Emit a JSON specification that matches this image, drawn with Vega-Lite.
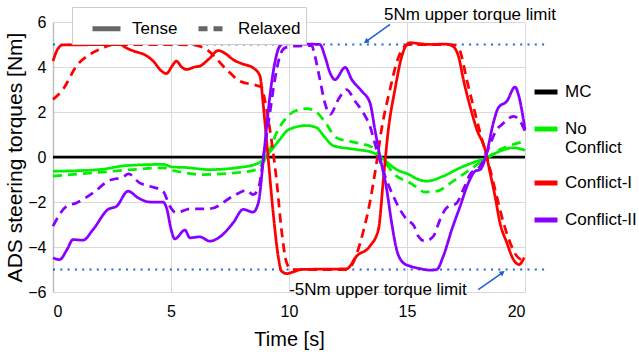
{
  "$schema": "https://vega.github.io/schema/vega-lite/v6.json",
  "width": 472,
  "height": 270,
  "autosize": "none",
  "padding": {"left": 53, "top": 22, "right": 114, "bottom": 64},
  "config": {
    "font": "Liberation Sans",
    "view": {"stroke": null},
    "axis": {"labelColor": "#000", "titleColor": "#000", "titleFontWeight": "normal", "gridColor": "#d9d9d9", "ticks": false}
  },
  "datasets": {
    "lines": [
      {"series": "MC", "mode": "Tense", "t": 0, "v": 0},
      {"series": "MC", "mode": "Tense", "t": 20, "v": 0},

      {"series": "No Conflict", "mode": "Tense", "t": 0, "v": -0.63},
      {"series": "No Conflict", "mode": "Tense", "t": 1.27, "v": -0.6},
      {"series": "No Conflict", "mode": "Tense", "t": 2.12, "v": -0.54},
      {"series": "No Conflict", "mode": "Tense", "t": 3.11, "v": -0.38},
      {"series": "No Conflict", "mode": "Tense", "t": 4.66, "v": -0.33},
      {"series": "No Conflict", "mode": "Tense", "t": 5.1, "v": -0.45},
      {"series": "No Conflict", "mode": "Tense", "t": 5.5, "v": -0.46},
      {"series": "No Conflict", "mode": "Tense", "t": 6.64, "v": -0.56},
      {"series": "No Conflict", "mode": "Tense", "t": 7.77, "v": -0.48},
      {"series": "No Conflict", "mode": "Tense", "t": 8.55, "v": -0.33},
      {"series": "No Conflict", "mode": "Tense", "t": 8.83, "v": -0.19},
      {"series": "No Conflict", "mode": "Tense", "t": 9.04, "v": 0.04},
      {"series": "No Conflict", "mode": "Tense", "t": 9.33, "v": 0.41},
      {"series": "No Conflict", "mode": "Tense", "t": 9.61, "v": 0.78},
      {"series": "No Conflict", "mode": "Tense", "t": 9.9, "v": 1.15},
      {"series": "No Conflict", "mode": "Tense", "t": 10.25, "v": 1.32},
      {"series": "No Conflict", "mode": "Tense", "t": 10.74, "v": 1.4},
      {"series": "No Conflict", "mode": "Tense", "t": 11.17, "v": 1.3},
      {"series": "No Conflict", "mode": "Tense", "t": 11.5, "v": 0.9},
      {"series": "No Conflict", "mode": "Tense", "t": 11.88, "v": 0.5},
      {"series": "No Conflict", "mode": "Tense", "t": 12.87, "v": 0.33},
      {"series": "No Conflict", "mode": "Tense", "t": 13.57, "v": 0.19},
      {"series": "No Conflict", "mode": "Tense", "t": 13.92, "v": -0.04},
      {"series": "No Conflict", "mode": "Tense", "t": 14.56, "v": -0.56},
      {"series": "No Conflict", "mode": "Tense", "t": 15.13, "v": -0.8},
      {"series": "No Conflict", "mode": "Tense", "t": 15.34, "v": -0.93},
      {"series": "No Conflict", "mode": "Tense", "t": 15.83, "v": -1.07},
      {"series": "No Conflict", "mode": "Tense", "t": 16.54, "v": -0.85},
      {"series": "No Conflict", "mode": "Tense", "t": 17.25, "v": -0.48},
      {"series": "No Conflict", "mode": "Tense", "t": 17.96, "v": -0.19},
      {"series": "No Conflict", "mode": "Tense", "t": 18.38, "v": -0.04},
      {"series": "No Conflict", "mode": "Tense", "t": 18.94, "v": 0.26},
      {"series": "No Conflict", "mode": "Tense", "t": 19.51, "v": 0.41},
      {"series": "No Conflict", "mode": "Tense", "t": 20, "v": 0.3},

      {"series": "No Conflict", "mode": "Relaxed", "t": 0, "v": -0.85},
      {"series": "No Conflict", "mode": "Relaxed", "t": 1.27, "v": -0.74},
      {"series": "No Conflict", "mode": "Relaxed", "t": 2.12, "v": -0.67},
      {"series": "No Conflict", "mode": "Relaxed", "t": 3.39, "v": -0.56},
      {"series": "No Conflict", "mode": "Relaxed", "t": 4.66, "v": -0.48},
      {"series": "No Conflict", "mode": "Relaxed", "t": 5.1, "v": -0.6},
      {"series": "No Conflict", "mode": "Relaxed", "t": 6.36, "v": -0.78},
      {"series": "No Conflict", "mode": "Relaxed", "t": 7.77, "v": -0.7},
      {"series": "No Conflict", "mode": "Relaxed", "t": 8.62, "v": -0.56},
      {"series": "No Conflict", "mode": "Relaxed", "t": 8.9, "v": -0.26},
      {"series": "No Conflict", "mode": "Relaxed", "t": 9.19, "v": 0.33},
      {"series": "No Conflict", "mode": "Relaxed", "t": 9.47, "v": 1.07},
      {"series": "No Conflict", "mode": "Relaxed", "t": 9.83, "v": 1.67},
      {"series": "No Conflict", "mode": "Relaxed", "t": 10.25, "v": 2.04},
      {"series": "No Conflict", "mode": "Relaxed", "t": 10.74, "v": 2.15},
      {"series": "No Conflict", "mode": "Relaxed", "t": 11.1, "v": 2.04},
      {"series": "No Conflict", "mode": "Relaxed", "t": 11.45, "v": 1.67},
      {"series": "No Conflict", "mode": "Relaxed", "t": 12.02, "v": 0.85},
      {"series": "No Conflict", "mode": "Relaxed", "t": 12.87, "v": 0.63},
      {"series": "No Conflict", "mode": "Relaxed", "t": 13.57, "v": 0.41},
      {"series": "No Conflict", "mode": "Relaxed", "t": 13.92, "v": -0.04},
      {"series": "No Conflict", "mode": "Relaxed", "t": 14.56, "v": -0.85},
      {"series": "No Conflict", "mode": "Relaxed", "t": 15.13, "v": -1.15},
      {"series": "No Conflict", "mode": "Relaxed", "t": 15.34, "v": -1.3},
      {"series": "No Conflict", "mode": "Relaxed", "t": 15.76, "v": -1.56},
      {"series": "No Conflict", "mode": "Relaxed", "t": 16.26, "v": -1.52},
      {"series": "No Conflict", "mode": "Relaxed", "t": 16.96, "v": -1.07},
      {"series": "No Conflict", "mode": "Relaxed", "t": 17.67, "v": -0.56},
      {"series": "No Conflict", "mode": "Relaxed", "t": 18.38, "v": -0.04},
      {"series": "No Conflict", "mode": "Relaxed", "t": 18.94, "v": 0.33},
      {"series": "No Conflict", "mode": "Relaxed", "t": 19.51, "v": 0.56},
      {"series": "No Conflict", "mode": "Relaxed", "t": 20, "v": 0.7},

      {"series": "Conflict-I", "mode": "Tense", "t": 0, "v": 4.26},
      {"series": "Conflict-I", "mode": "Tense", "t": 0.2, "v": 4.8},
      {"series": "Conflict-I", "mode": "Tense", "t": 0.42, "v": 4.98},
      {"series": "Conflict-I", "mode": "Tense", "t": 1.0, "v": 4.98},
      {"series": "Conflict-I", "mode": "Tense", "t": 2.0, "v": 5.0},
      {"series": "Conflict-I", "mode": "Tense", "t": 2.83, "v": 5.0},
      {"series": "Conflict-I", "mode": "Tense", "t": 3.1, "v": 4.85},
      {"series": "Conflict-I", "mode": "Tense", "t": 3.39, "v": 4.72},
      {"series": "Conflict-I", "mode": "Tense", "t": 3.96, "v": 4.5},
      {"series": "Conflict-I", "mode": "Tense", "t": 4.3, "v": 4.2},
      {"series": "Conflict-I", "mode": "Tense", "t": 4.52, "v": 3.9},
      {"series": "Conflict-I", "mode": "Tense", "t": 4.81, "v": 3.71},
      {"series": "Conflict-I", "mode": "Tense", "t": 5.05, "v": 4.05},
      {"series": "Conflict-I", "mode": "Tense", "t": 5.23, "v": 4.26},
      {"series": "Conflict-I", "mode": "Tense", "t": 5.45, "v": 4.0},
      {"series": "Conflict-I", "mode": "Tense", "t": 5.66, "v": 3.89},
      {"series": "Conflict-I", "mode": "Tense", "t": 6.0, "v": 4.0},
      {"series": "Conflict-I", "mode": "Tense", "t": 6.22, "v": 4.04},
      {"series": "Conflict-I", "mode": "Tense", "t": 6.6, "v": 4.35},
      {"series": "Conflict-I", "mode": "Tense", "t": 7.0, "v": 4.73},
      {"series": "Conflict-I", "mode": "Tense", "t": 7.3, "v": 4.6},
      {"series": "Conflict-I", "mode": "Tense", "t": 7.63, "v": 4.33},
      {"series": "Conflict-I", "mode": "Tense", "t": 8.0, "v": 4.15},
      {"series": "Conflict-I", "mode": "Tense", "t": 8.48, "v": 3.96},
      {"series": "Conflict-I", "mode": "Tense", "t": 8.77, "v": 3.6},
      {"series": "Conflict-I", "mode": "Tense", "t": 8.9, "v": 2.41},
      {"series": "Conflict-I", "mode": "Tense", "t": 9.11, "v": 0.04},
      {"series": "Conflict-I", "mode": "Tense", "t": 9.33, "v": -2.48},
      {"series": "Conflict-I", "mode": "Tense", "t": 9.54, "v": -4.4},
      {"series": "Conflict-I", "mode": "Tense", "t": 9.68, "v": -5.07},
      {"series": "Conflict-I", "mode": "Tense", "t": 9.9, "v": -5.18},
      {"series": "Conflict-I", "mode": "Tense", "t": 10.2, "v": -5.1},
      {"series": "Conflict-I", "mode": "Tense", "t": 10.5, "v": -5.0},
      {"series": "Conflict-I", "mode": "Tense", "t": 12.44, "v": -4.97},
      {"series": "Conflict-I", "mode": "Tense", "t": 12.87, "v": -4.4},
      {"series": "Conflict-I", "mode": "Tense", "t": 13.43, "v": -3.96},
      {"series": "Conflict-I", "mode": "Tense", "t": 13.79, "v": -3.22},
      {"series": "Conflict-I", "mode": "Tense", "t": 14.0, "v": -0.98},
      {"series": "Conflict-I", "mode": "Tense", "t": 14.21, "v": 1.22},
      {"series": "Conflict-I", "mode": "Tense", "t": 14.49, "v": 3.0},
      {"series": "Conflict-I", "mode": "Tense", "t": 14.78, "v": 4.48},
      {"series": "Conflict-I", "mode": "Tense", "t": 14.99, "v": 5.0},
      {"series": "Conflict-I", "mode": "Tense", "t": 15.13, "v": 5.08},
      {"series": "Conflict-I", "mode": "Tense", "t": 15.5, "v": 5.04},
      {"series": "Conflict-I", "mode": "Tense", "t": 16.0, "v": 5.0},
      {"series": "Conflict-I", "mode": "Tense", "t": 16.6, "v": 5.02},
      {"series": "Conflict-I", "mode": "Tense", "t": 16.9, "v": 4.95},
      {"series": "Conflict-I", "mode": "Tense", "t": 17.18, "v": 4.48},
      {"series": "Conflict-I", "mode": "Tense", "t": 17.39, "v": 3.44},
      {"series": "Conflict-I", "mode": "Tense", "t": 17.67, "v": 2.26},
      {"series": "Conflict-I", "mode": "Tense", "t": 17.96, "v": 1.22},
      {"series": "Conflict-I", "mode": "Tense", "t": 18.31, "v": 0.33},
      {"series": "Conflict-I", "mode": "Tense", "t": 18.52, "v": -0.7},
      {"series": "Conflict-I", "mode": "Tense", "t": 18.73, "v": -1.74},
      {"series": "Conflict-I", "mode": "Tense", "t": 18.94, "v": -2.93},
      {"series": "Conflict-I", "mode": "Tense", "t": 19.23, "v": -3.81},
      {"series": "Conflict-I", "mode": "Tense", "t": 19.51, "v": -4.56},
      {"series": "Conflict-I", "mode": "Tense", "t": 19.75, "v": -4.78},
      {"series": "Conflict-I", "mode": "Tense", "t": 19.96, "v": -4.47},

      {"series": "Conflict-I", "mode": "Relaxed", "t": 0, "v": 2.56},
      {"series": "Conflict-I", "mode": "Relaxed", "t": 0.42, "v": 3.0},
      {"series": "Conflict-I", "mode": "Relaxed", "t": 0.99, "v": 4.04},
      {"series": "Conflict-I", "mode": "Relaxed", "t": 1.56, "v": 4.56},
      {"series": "Conflict-I", "mode": "Relaxed", "t": 2.12, "v": 4.85},
      {"series": "Conflict-I", "mode": "Relaxed", "t": 2.55, "v": 5.0},
      {"series": "Conflict-I", "mode": "Relaxed", "t": 4.0, "v": 5.0},
      {"series": "Conflict-I", "mode": "Relaxed", "t": 5.93, "v": 4.98},
      {"series": "Conflict-I", "mode": "Relaxed", "t": 6.5, "v": 4.78},
      {"series": "Conflict-I", "mode": "Relaxed", "t": 7.35, "v": 3.89},
      {"series": "Conflict-I", "mode": "Relaxed", "t": 7.92, "v": 3.37},
      {"series": "Conflict-I", "mode": "Relaxed", "t": 8.63, "v": 3.18},
      {"series": "Conflict-I", "mode": "Relaxed", "t": 8.84, "v": 3.1},
      {"series": "Conflict-I", "mode": "Relaxed", "t": 8.98, "v": 2.5},
      {"series": "Conflict-I", "mode": "Relaxed", "t": 9.19, "v": 1.22},
      {"series": "Conflict-I", "mode": "Relaxed", "t": 9.47, "v": -1.0},
      {"series": "Conflict-I", "mode": "Relaxed", "t": 9.68, "v": -3.22},
      {"series": "Conflict-I", "mode": "Relaxed", "t": 9.9, "v": -4.7},
      {"series": "Conflict-I", "mode": "Relaxed", "t": 10.11, "v": -5.0},
      {"series": "Conflict-I", "mode": "Relaxed", "t": 12.4, "v": -5.0},
      {"series": "Conflict-I", "mode": "Relaxed", "t": 12.6, "v": -4.9},
      {"series": "Conflict-I", "mode": "Relaxed", "t": 12.87, "v": -4.3},
      {"series": "Conflict-I", "mode": "Relaxed", "t": 13.15, "v": -3.3},
      {"series": "Conflict-I", "mode": "Relaxed", "t": 13.43, "v": -2.0},
      {"series": "Conflict-I", "mode": "Relaxed", "t": 13.71, "v": -0.26},
      {"series": "Conflict-I", "mode": "Relaxed", "t": 13.92, "v": 1.22},
      {"series": "Conflict-I", "mode": "Relaxed", "t": 14.28, "v": 3.0},
      {"series": "Conflict-I", "mode": "Relaxed", "t": 14.56, "v": 4.19},
      {"series": "Conflict-I", "mode": "Relaxed", "t": 14.84, "v": 4.85},
      {"series": "Conflict-I", "mode": "Relaxed", "t": 15.05, "v": 5.0},
      {"series": "Conflict-I", "mode": "Relaxed", "t": 16.9, "v": 5.0},
      {"series": "Conflict-I", "mode": "Relaxed", "t": 17.1, "v": 4.9},
      {"series": "Conflict-I", "mode": "Relaxed", "t": 17.25, "v": 4.7},
      {"series": "Conflict-I", "mode": "Relaxed", "t": 17.53, "v": 3.44},
      {"series": "Conflict-I", "mode": "Relaxed", "t": 17.81, "v": 2.26},
      {"series": "Conflict-I", "mode": "Relaxed", "t": 18.1, "v": 1.07},
      {"series": "Conflict-I", "mode": "Relaxed", "t": 18.45, "v": -0.26},
      {"series": "Conflict-I", "mode": "Relaxed", "t": 18.8, "v": -1.74},
      {"series": "Conflict-I", "mode": "Relaxed", "t": 19.09, "v": -2.93},
      {"series": "Conflict-I", "mode": "Relaxed", "t": 19.37, "v": -3.81},
      {"series": "Conflict-I", "mode": "Relaxed", "t": 19.65, "v": -4.4},
      {"series": "Conflict-I", "mode": "Relaxed", "t": 19.86, "v": -4.56},
      {"series": "Conflict-I", "mode": "Relaxed", "t": 19.96, "v": -4.35},

      {"series": "Conflict-II", "mode": "Tense", "t": 0, "v": -4.48},
      {"series": "Conflict-II", "mode": "Tense", "t": 0.28, "v": -4.56},
      {"series": "Conflict-II", "mode": "Tense", "t": 0.6, "v": -4.1},
      {"series": "Conflict-II", "mode": "Tense", "t": 0.85, "v": -3.67},
      {"series": "Conflict-II", "mode": "Tense", "t": 1.27, "v": -3.7},
      {"series": "Conflict-II", "mode": "Tense", "t": 1.7, "v": -3.22},
      {"series": "Conflict-II", "mode": "Tense", "t": 2.33, "v": -2.33},
      {"series": "Conflict-II", "mode": "Tense", "t": 2.69, "v": -2.19},
      {"series": "Conflict-II", "mode": "Tense", "t": 3.18, "v": -1.52},
      {"series": "Conflict-II", "mode": "Tense", "t": 3.6, "v": -1.81},
      {"series": "Conflict-II", "mode": "Tense", "t": 4.1, "v": -2.0},
      {"series": "Conflict-II", "mode": "Tense", "t": 4.66, "v": -2.0},
      {"series": "Conflict-II", "mode": "Tense", "t": 4.83, "v": -2.33},
      {"series": "Conflict-II", "mode": "Tense", "t": 5.0, "v": -3.2},
      {"series": "Conflict-II", "mode": "Tense", "t": 5.16, "v": -3.64},
      {"series": "Conflict-II", "mode": "Tense", "t": 5.59, "v": -3.25},
      {"series": "Conflict-II", "mode": "Tense", "t": 5.8, "v": -3.59},
      {"series": "Conflict-II", "mode": "Tense", "t": 6.22, "v": -3.55},
      {"series": "Conflict-II", "mode": "Tense", "t": 6.65, "v": -3.74},
      {"series": "Conflict-II", "mode": "Tense", "t": 7.07, "v": -3.55},
      {"series": "Conflict-II", "mode": "Tense", "t": 7.63, "v": -2.93},
      {"series": "Conflict-II", "mode": "Tense", "t": 8.06, "v": -2.33},
      {"series": "Conflict-II", "mode": "Tense", "t": 8.48, "v": -2.45},
      {"series": "Conflict-II", "mode": "Tense", "t": 8.7, "v": -2.04},
      {"series": "Conflict-II", "mode": "Tense", "t": 8.9, "v": -0.26},
      {"series": "Conflict-II", "mode": "Tense", "t": 9.04, "v": 1.22},
      {"series": "Conflict-II", "mode": "Tense", "t": 9.19, "v": 2.7},
      {"series": "Conflict-II", "mode": "Tense", "t": 9.4, "v": 4.19},
      {"series": "Conflict-II", "mode": "Tense", "t": 9.61, "v": 4.93},
      {"series": "Conflict-II", "mode": "Tense", "t": 9.83, "v": 5.07},
      {"series": "Conflict-II", "mode": "Tense", "t": 10.18, "v": 5.04},
      {"series": "Conflict-II", "mode": "Tense", "t": 11.31, "v": 5.0},
      {"series": "Conflict-II", "mode": "Tense", "t": 11.52, "v": 4.48},
      {"series": "Conflict-II", "mode": "Tense", "t": 11.74, "v": 3.74},
      {"series": "Conflict-II", "mode": "Tense", "t": 11.95, "v": 3.44},
      {"series": "Conflict-II", "mode": "Tense", "t": 12.38, "v": 3.98},
      {"series": "Conflict-II", "mode": "Tense", "t": 12.66, "v": 3.44},
      {"series": "Conflict-II", "mode": "Tense", "t": 13.08, "v": 2.93},
      {"series": "Conflict-II", "mode": "Tense", "t": 13.43, "v": 2.41},
      {"series": "Conflict-II", "mode": "Tense", "t": 13.64, "v": 1.22},
      {"series": "Conflict-II", "mode": "Tense", "t": 13.85, "v": 0.04},
      {"series": "Conflict-II", "mode": "Tense", "t": 14.14, "v": -1.44},
      {"series": "Conflict-II", "mode": "Tense", "t": 14.35, "v": -2.93},
      {"series": "Conflict-II", "mode": "Tense", "t": 14.56, "v": -4.11},
      {"series": "Conflict-II", "mode": "Tense", "t": 14.84, "v": -4.7},
      {"series": "Conflict-II", "mode": "Tense", "t": 15.13, "v": -4.85},
      {"series": "Conflict-II", "mode": "Tense", "t": 15.5, "v": -4.95},
      {"series": "Conflict-II", "mode": "Tense", "t": 15.98, "v": -5.03},
      {"series": "Conflict-II", "mode": "Tense", "t": 16.26, "v": -5.0},
      {"series": "Conflict-II", "mode": "Tense", "t": 16.54, "v": -4.4},
      {"series": "Conflict-II", "mode": "Tense", "t": 16.9, "v": -3.22},
      {"series": "Conflict-II", "mode": "Tense", "t": 17.25, "v": -2.19},
      {"series": "Conflict-II", "mode": "Tense", "t": 17.6, "v": -1.15},
      {"series": "Conflict-II", "mode": "Tense", "t": 17.89, "v": -0.63},
      {"series": "Conflict-II", "mode": "Tense", "t": 18.1, "v": -0.56},
      {"series": "Conflict-II", "mode": "Tense", "t": 18.38, "v": 0.19},
      {"series": "Conflict-II", "mode": "Tense", "t": 18.66, "v": 1.52},
      {"series": "Conflict-II", "mode": "Tense", "t": 18.87, "v": 2.19},
      {"series": "Conflict-II", "mode": "Tense", "t": 19.23, "v": 2.48},
      {"series": "Conflict-II", "mode": "Tense", "t": 19.58, "v": 3.11},
      {"series": "Conflict-II", "mode": "Tense", "t": 19.72, "v": 2.78},
      {"series": "Conflict-II", "mode": "Tense", "t": 20, "v": 1.22},

      {"series": "Conflict-II", "mode": "Relaxed", "t": 0, "v": -3.07},
      {"series": "Conflict-II", "mode": "Relaxed", "t": 0.57, "v": -2.19},
      {"series": "Conflict-II", "mode": "Relaxed", "t": 0.99, "v": -2.04},
      {"series": "Conflict-II", "mode": "Relaxed", "t": 1.7, "v": -1.59},
      {"series": "Conflict-II", "mode": "Relaxed", "t": 2.33, "v": -1.07},
      {"series": "Conflict-II", "mode": "Relaxed", "t": 2.97, "v": -0.88},
      {"series": "Conflict-II", "mode": "Relaxed", "t": 3.2, "v": -0.75},
      {"series": "Conflict-II", "mode": "Relaxed", "t": 3.67, "v": -1.15},
      {"series": "Conflict-II", "mode": "Relaxed", "t": 4.1, "v": -1.3},
      {"series": "Conflict-II", "mode": "Relaxed", "t": 4.66, "v": -1.52},
      {"series": "Conflict-II", "mode": "Relaxed", "t": 4.95, "v": -2.19},
      {"series": "Conflict-II", "mode": "Relaxed", "t": 5.23, "v": -2.48},
      {"series": "Conflict-II", "mode": "Relaxed", "t": 5.8, "v": -2.3},
      {"series": "Conflict-II", "mode": "Relaxed", "t": 6.65, "v": -2.3},
      {"series": "Conflict-II", "mode": "Relaxed", "t": 7.63, "v": -1.74},
      {"series": "Conflict-II", "mode": "Relaxed", "t": 8.2, "v": -1.48},
      {"series": "Conflict-II", "mode": "Relaxed", "t": 8.48, "v": -1.67},
      {"series": "Conflict-II", "mode": "Relaxed", "t": 8.69, "v": -1.44},
      {"series": "Conflict-II", "mode": "Relaxed", "t": 8.98, "v": 0.48},
      {"series": "Conflict-II", "mode": "Relaxed", "t": 9.19, "v": 1.96},
      {"series": "Conflict-II", "mode": "Relaxed", "t": 9.4, "v": 3.44},
      {"series": "Conflict-II", "mode": "Relaxed", "t": 9.61, "v": 4.48},
      {"series": "Conflict-II", "mode": "Relaxed", "t": 9.83, "v": 4.85},
      {"series": "Conflict-II", "mode": "Relaxed", "t": 10.25, "v": 4.93},
      {"series": "Conflict-II", "mode": "Relaxed", "t": 10.96, "v": 4.95},
      {"series": "Conflict-II", "mode": "Relaxed", "t": 11.1, "v": 4.48},
      {"series": "Conflict-II", "mode": "Relaxed", "t": 11.31, "v": 3.44},
      {"series": "Conflict-II", "mode": "Relaxed", "t": 11.52, "v": 2.41},
      {"series": "Conflict-II", "mode": "Relaxed", "t": 11.74, "v": 1.89},
      {"series": "Conflict-II", "mode": "Relaxed", "t": 12.09, "v": 2.56},
      {"series": "Conflict-II", "mode": "Relaxed", "t": 12.44, "v": 3.0},
      {"series": "Conflict-II", "mode": "Relaxed", "t": 12.8, "v": 2.48},
      {"series": "Conflict-II", "mode": "Relaxed", "t": 13.15, "v": 1.96},
      {"series": "Conflict-II", "mode": "Relaxed", "t": 13.43, "v": 1.37},
      {"series": "Conflict-II", "mode": "Relaxed", "t": 13.71, "v": 0.33},
      {"series": "Conflict-II", "mode": "Relaxed", "t": 14.07, "v": -0.85},
      {"series": "Conflict-II", "mode": "Relaxed", "t": 14.42, "v": -1.74},
      {"series": "Conflict-II", "mode": "Relaxed", "t": 14.7, "v": -2.33},
      {"series": "Conflict-II", "mode": "Relaxed", "t": 14.99, "v": -2.78},
      {"series": "Conflict-II", "mode": "Relaxed", "t": 15.3, "v": -3.07},
      {"series": "Conflict-II", "mode": "Relaxed", "t": 15.48, "v": -3.52},
      {"series": "Conflict-II", "mode": "Relaxed", "t": 15.76, "v": -3.74},
      {"series": "Conflict-II", "mode": "Relaxed", "t": 16.12, "v": -3.52},
      {"series": "Conflict-II", "mode": "Relaxed", "t": 16.4, "v": -2.78},
      {"series": "Conflict-II", "mode": "Relaxed", "t": 16.68, "v": -2.26},
      {"series": "Conflict-II", "mode": "Relaxed", "t": 17.11, "v": -2.04},
      {"series": "Conflict-II", "mode": "Relaxed", "t": 17.39, "v": -1.44},
      {"series": "Conflict-II", "mode": "Relaxed", "t": 17.67, "v": -0.78},
      {"series": "Conflict-II", "mode": "Relaxed", "t": 18.1, "v": -0.41},
      {"series": "Conflict-II", "mode": "Relaxed", "t": 18.38, "v": 0.19},
      {"series": "Conflict-II", "mode": "Relaxed", "t": 18.8, "v": 1.22},
      {"series": "Conflict-II", "mode": "Relaxed", "t": 19.02, "v": 1.44},
      {"series": "Conflict-II", "mode": "Relaxed", "t": 19.51, "v": 1.81},
      {"series": "Conflict-II", "mode": "Relaxed", "t": 19.79, "v": 1.59},
      {"series": "Conflict-II", "mode": "Relaxed", "t": 20, "v": 1.15}
    ],
    "limits": [
      {"x": 0, "x2": 20.85, "y": 5},
      {"x": 0, "x2": 20.85, "y": -5}
    ],
    "arrows": [
      {"id": "up", "x": 14.28, "y": 5.89, "x2": 13.29, "y2": 5.15},
      {"id": "down", "x": 18.02, "y": -5.89, "x2": 19.02, "y2": -5.16}
    ],
    "notes": [
      {"x": 17.67, "y": 6.33, "label": "5Nm upper torque limit"},
      {"x": 13.77, "y": -5.89, "label": "-5Nm upper torque limit"}
    ]
  },
  "layer": [
    {
      "data": {"name": "limits"},
      "mark": {"type": "rule", "color": "#2266dd", "strokeWidth": 2, "strokeDash": [2, 5.3]},
      "encoding": {
        "x": {"field": "x", "type": "quantitative", "scale": {"domain": [0, 20], "nice": false}},
        "x2": {"field": "x2"},
        "y": {"field": "y", "type": "quantitative", "scale": {"domain": [-6, 6], "nice": false}}
      }
    },
    {
      "data": {"name": "lines"},
      "mark": {"type": "line", "strokeWidth": 2.75, "interpolate": "monotone"},
      "encoding": {
        "x": {"field": "t", "type": "quantitative", "title": "Time [s]",
          "axis": {"values": [0, 5, 10, 15, 20], "domain": false, "labelFontSize": 16, "labelPadding": 11, "titleFontSize": 20, "titlePadding": 10}},
        "y": {"field": "v", "type": "quantitative", "title": "ADS steering torques [Nm]",
          "axis": {"values": [-6, -4, -2, 0, 2, 4, 6], "domainColor": "#bfbfbf", "domainWidth": 1.5, "labelFontSize": 16, "labelPadding": 7, "titleFontSize": 21, "titlePadding": 2}},
        "color": {"field": "series", "type": "nominal",
          "scale": {"domain": ["MC", "No Conflict", "Conflict-I", "Conflict-II"], "range": ["#000000", "#00f000", "#ff0000", "#8a00ff"]},
          "legend": {"title": null, "orient": "none", "legendX": 479, "legendY": 56, "padding": 0, "symbolType": "stroke", "symbolSize": 529, "symbolStrokeWidth": 5, "labelFontSize": 17, "labelOffset": 5, "rowPadding": 13, "labelColor": "#000", "labelLimit": 200,
            "labelExpr": "datum.label == 'No Conflict' ? ['No', 'Conflict'] : datum.label"}},
        "strokeDash": {"field": "mode", "type": "nominal",
          "scale": {"domain": ["Tense", "Relaxed"], "range": [[1, 0], [9, 6]]},
          "legend": {"title": "\u00a0", "titleOrient": "left", "titleFontSize": 17, "titleColor": "#ffffff", "titlePadding": 13, "orient": "none", "direction": "horizontal", "legendX": 19, "legendY": -15, "padding": 5, "fillColor": "#ffffff", "strokeColor": "#cccccc", "symbolType": "stroke", "symbolSize": 784, "symbolStrokeWidth": 5, "symbolStrokeColor": "#666666", "labelFontSize": 17, "labelOffset": 9, "columnPadding": 10, "labelColor": "#000",
            "labelExpr": "datum.label == 'Relaxed' ? 'Relaxed\u00a0\u00a0\u00a0\u00a0\u00a0\u00a0' : datum.label"}}
      }
    },
    {
      "data": {"name": "arrows"},
      "mark": {"type": "rule", "color": "#1f5fd0", "strokeWidth": 1.5},
      "encoding": {
        "x": {"field": "x", "type": "quantitative"},
        "y": {"field": "y", "type": "quantitative"},
        "x2": {"field": "x2"},
        "y2": {"field": "y2"}
      }
    },
    {
      "data": {"name": "arrows"},
      "transform": [{"filter": "datum.id == 'up'"}],
      "mark": {"type": "point", "shape": "triangle", "filled": true, "size": 35, "angle": 234, "color": "#1f5fd0", "opacity": 1},
      "encoding": {
        "x": {"field": "x2", "type": "quantitative"},
        "y": {"field": "y2", "type": "quantitative"}
      }
    },
    {
      "data": {"name": "arrows"},
      "transform": [{"filter": "datum.id == 'down'"}],
      "mark": {"type": "point", "shape": "triangle", "filled": true, "size": 35, "angle": 54, "color": "#1f5fd0", "opacity": 1},
      "encoding": {
        "x": {"field": "x2", "type": "quantitative"},
        "y": {"field": "y2", "type": "quantitative"}
      }
    },
    {
      "data": {"name": "notes"},
      "mark": {"type": "text", "fontSize": 17, "color": "#000", "align": "center", "baseline": "middle"},
      "encoding": {
        "x": {"field": "x", "type": "quantitative"},
        "y": {"field": "y", "type": "quantitative"},
        "text": {"field": "label"}
      }
    }
  ]
}
